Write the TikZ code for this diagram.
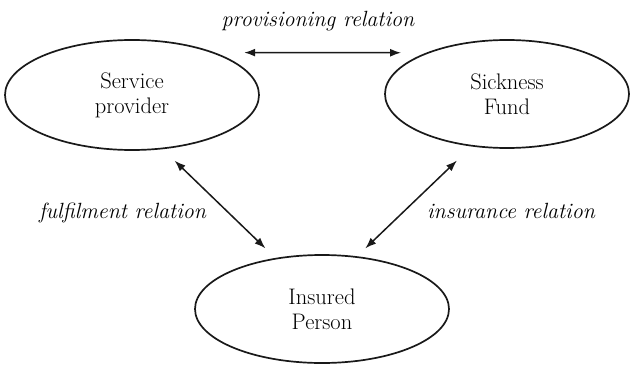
\documentclass[tikz,border=0pt]{standalone}
\usetikzlibrary{shapes.geometric,arrows.meta}
\begin{document}
\begin{tikzpicture}[x=1pt,y=-1pt,
  ent/.style={ellipse,draw=black!90,line width=1.7pt,inner sep=0pt,align=center,
    font=\fontsize{22.5}{25}\selectfont,text=black},
  rel/.style={{Latex[length=11pt,width=8pt]}-{Latex[length=11pt,width=8pt]},line width=1.5pt,draw=black!90},
  lbl/.style={inner sep=0pt,anchor=base,font=\fontsize{22}{25}\selectfont\itshape,text=black}]
\useasboundingbox (0,0) rectangle (631,364);
\node[ent,minimum width=254pt,minimum height=110pt] (sp) at (132,95) {Service\\provider};
\node[ent,minimum width=244pt,minimum height=108pt] (sf) at (507,94) {Sickness\\Fund};
\node[ent,minimum width=254pt,minimum height=108pt] (ip) at (322,309) {Insured\\Person};
\node[lbl] (lprov) at (318,27) {provisioning relation};
\node[lbl] (lfulf) at (122.5,218) {fulfilment relation};
\node[lbl] (lins) at (511,218) {insurance relation};
\draw[rel] ([xshift=29pt]sp.27) -- ([xshift=-25pt]sf.153);
\draw[rel] ([yshift=-13pt]sp.-51) -- ([yshift=11.5pt]ip.139);
\draw[rel] ([yshift=-16.5pt]sf.225.3) -- ([yshift=9pt]ip.50.5);
\end{tikzpicture}
\end{document}
